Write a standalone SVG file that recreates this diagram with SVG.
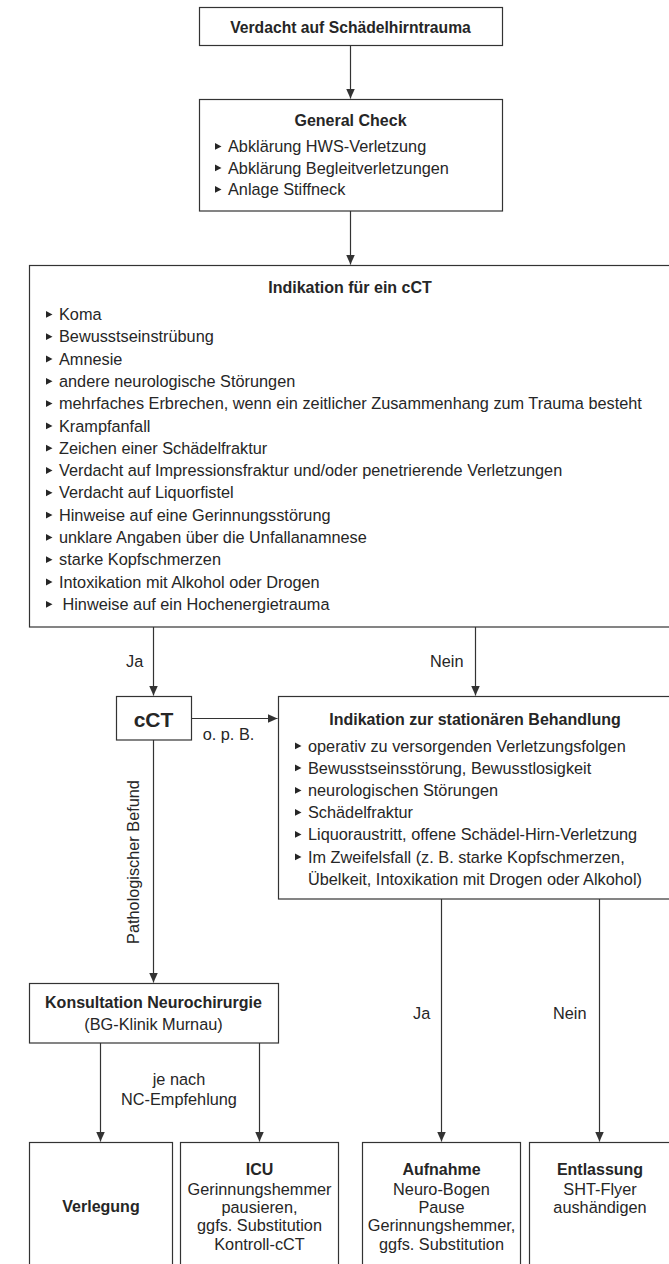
<svg xmlns="http://www.w3.org/2000/svg" xmlns:xlink="http://www.w3.org/1999/xlink" width="669" height="1264" viewBox="0 0 669 1264">
<style>
.box{fill:#fff;stroke:#333;stroke-width:1.2}
.ln{fill:none;stroke:#333;stroke-width:1.2}
.t{font-family:"Liberation Sans",Arial,sans-serif;font-size:16.3px;fill:#262626}
.b{font-weight:bold;font-size:16px}
.c{text-anchor:middle}
.bul{fill:#262626}
</style>
<defs>
<marker id="ah" markerUnits="userSpaceOnUse" markerWidth="10" markerHeight="10" refX="10" refY="5" orient="auto">
<path d="M0,0.5 L10,5 L0,9.5 z" fill="#333"/>
</marker>
<path id="bu" d="M0,-9 L6.5,-5.6 L0,-2.2 z"/>
</defs>
<rect width="669" height="1264" fill="#fff"/>

<g id="connectors">
<path class="ln" d="M350.5,45 V98.5" marker-end="url(#ah)"/>
<path class="ln" d="M350.5,211 V264.5" marker-end="url(#ah)"/>
<path class="ln" d="M153.5,627 V695.5" marker-end="url(#ah)"/>
<path class="ln" d="M475.5,627 V695.5" marker-end="url(#ah)"/>
<path class="ln" d="M191,718.5 H277.5" marker-end="url(#ah)"/>
<path class="ln" d="M153.5,740 V982.5" marker-end="url(#ah)"/>
<path class="ln" d="M100.5,1043 V1141.5" marker-end="url(#ah)"/>
<path class="ln" d="M259.5,1043 V1141.5" marker-end="url(#ah)"/>
<path class="ln" d="M441.5,899 V1141.5" marker-end="url(#ah)"/>
<path class="ln" d="M599.5,899 V1141.5" marker-end="url(#ah)"/>
<text class="t" x="126" y="667">Ja</text>
<text class="t" x="430" y="667">Nein</text>
<text class="t c" x="228.5" y="740">o. p. B.</text>
<text class="t c" transform="translate(139,862) rotate(-90)">Pathologischer Befund</text>
<text class="t c" x="179" y="1085">je nach</text>
<text class="t c" x="179" y="1105">NC-Empfehlung</text>
<text class="t" x="413" y="1019">Ja</text>
<text class="t" x="553" y="1019">Nein</text>
</g>

<g id="n-verdacht">
<rect class="box" x="199.5" y="7.5" width="303" height="38"/>
<text class="t b c" x="350.5" y="32.5" style="font-size:15.7px">Verdacht auf Schädelhirntrauma</text>
</g>

<g id="n-general">
<rect class="box" x="199.5" y="99.5" width="303" height="111.5"/>
<text class="t b c" x="350.5" y="126">General Check</text>
<use href="#bu" class="bul" x="215" y="152"/><text class="t" x="228" y="152">Abklärung HWS-Verletzung</text>
<use href="#bu" class="bul" x="215" y="173.5"/><text class="t" x="228" y="173.5">Abklärung Begleitverletzungen</text>
<use href="#bu" class="bul" x="215" y="195"/><text class="t" x="228" y="195">Anlage Stiffneck</text>
</g>

<g id="n-indikation-cct">
<rect class="box" x="29.5" y="265.5" width="642" height="361.5"/>
<text class="t b c" x="350" y="293">Indikation für ein cCT</text>
<use href="#bu" class="bul" x="46" y="320"/><text class="t" x="59" y="320">Koma</text>
<use href="#bu" class="bul" x="46" y="342.3"/><text class="t" x="59" y="342.3">Bewusstseinstrübung</text>
<use href="#bu" class="bul" x="46" y="364.6"/><text class="t" x="59" y="364.6">Amnesie</text>
<use href="#bu" class="bul" x="46" y="386.9"/><text class="t" x="59" y="386.9">andere neurologische Störungen</text>
<use href="#bu" class="bul" x="46" y="409.2"/><text class="t" x="59" y="409.2">mehrfaches Erbrechen, wenn ein zeitlicher Zusammenhang zum Trauma besteht</text>
<use href="#bu" class="bul" x="46" y="431.5"/><text class="t" x="59" y="431.5">Krampfanfall</text>
<use href="#bu" class="bul" x="46" y="453.8"/><text class="t" x="59" y="453.8">Zeichen einer Schädelfraktur</text>
<use href="#bu" class="bul" x="46" y="476.1"/><text class="t" x="59" y="476.1">Verdacht auf Impressionsfraktur und/oder penetrierende Verletzungen</text>
<use href="#bu" class="bul" x="46" y="498.4"/><text class="t" x="59" y="498.4">Verdacht auf Liquorfistel</text>
<use href="#bu" class="bul" x="46" y="520.7"/><text class="t" x="59" y="520.7">Hinweise auf eine Gerinnungsstörung</text>
<use href="#bu" class="bul" x="46" y="543"/><text class="t" x="59" y="543">unklare Angaben über die Unfallanamnese</text>
<use href="#bu" class="bul" x="46" y="565.3"/><text class="t" x="59" y="565.3">starke Kopfschmerzen</text>
<use href="#bu" class="bul" x="46" y="587.6"/><text class="t" x="59" y="587.6">Intoxikation mit Alkohol oder Drogen</text>
<use href="#bu" class="bul" x="46" y="609.9"/><text class="t" x="62.5" y="609.9">Hinweise auf ein Hochenergietrauma</text>
</g>

<g id="n-cct">
<rect class="box" x="116.5" y="696.5" width="75" height="43.5"/>
<text class="t b c" x="153.5" y="726.5" style="font-size:21px">cCT</text>
</g>

<g id="n-stationaer">
<rect class="box" x="278.5" y="696.5" width="393" height="202.5"/>
<text class="t b c" x="475" y="725">Indikation zur stationären Behandlung</text>
<use href="#bu" class="bul" x="295" y="751.5"/><text class="t" x="308" y="751.5">operativ zu versorgenden Verletzungsfolgen</text>
<use href="#bu" class="bul" x="295" y="773.5"/><text class="t" x="308" y="773.5">Bewusstseinsstörung, Bewusstlosigkeit</text>
<use href="#bu" class="bul" x="295" y="796"/><text class="t" x="308" y="796">neurologischen Störungen</text>
<use href="#bu" class="bul" x="295" y="818"/><text class="t" x="308" y="818">Schädelfraktur</text>
<use href="#bu" class="bul" x="295" y="840"/><text class="t" x="308" y="840">Liquoraustritt, offene Schädel-Hirn-Verletzung</text>
<use href="#bu" class="bul" x="295" y="862.5"/><text class="t" x="308" y="862.5">Im Zweifelsfall (z. B. starke Kopfschmerzen,</text>
<text class="t" x="308" y="884.5">Übelkeit, Intoxikation mit Drogen oder Alkohol)</text>
</g>

<g id="n-konsultation">
<rect class="box" x="29.5" y="983.5" width="249" height="59.5"/>
<text class="t b c" x="153.5" y="1007.5">Konsultation Neurochirurgie</text>
<text class="t c" x="153.5" y="1030">(BG-Klinik Murnau)</text>
</g>

<g id="n-verlegung">
<rect class="box" x="29.5" y="1142.5" width="143" height="140"/>
<text class="t b c" x="101" y="1212">Verlegung</text>
</g>

<g id="n-icu">
<rect class="box" x="180.5" y="1142.5" width="158" height="140"/>
<text class="t b c" x="259.5" y="1175">ICU</text>
<text class="t c" x="259.5" y="1194.5">Gerinnungshemmer</text>
<text class="t c" x="259.5" y="1212.5">pausieren,</text>
<text class="t c" x="259.5" y="1231">ggfs. Substitution</text>
<text class="t c" x="259.5" y="1249.5">Kontroll-cCT</text>
</g>

<g id="n-aufnahme">
<rect class="box" x="362.5" y="1142.5" width="158" height="140"/>
<text class="t b c" x="441.5" y="1175">Aufnahme</text>
<text class="t c" x="441.5" y="1194.5">Neuro-Bogen</text>
<text class="t c" x="441.5" y="1212.5">Pause</text>
<text class="t c" x="441.5" y="1231">Gerinnungshemmer,</text>
<text class="t c" x="441.5" y="1249.5">ggfs. Substitution</text>
</g>

<g id="n-entlassung">
<rect class="box" x="529.5" y="1142.5" width="142" height="140"/>
<text class="t b c" x="600" y="1175">Entlassung</text>
<text class="t c" x="600" y="1194.5">SHT-Flyer</text>
<text class="t c" x="600" y="1212.5">aushändigen</text>
</g>
</svg>
